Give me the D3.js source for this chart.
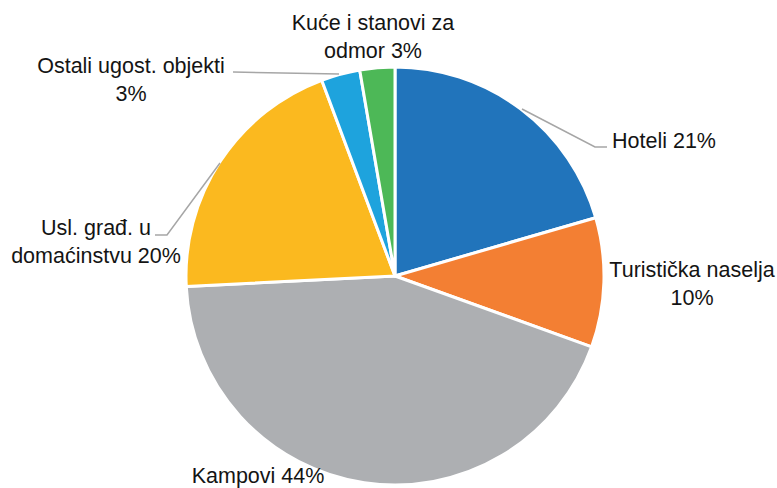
<!DOCTYPE html>
<html><head><meta charset="utf-8">
<script src="https://cdn.jsdelivr.net/npm/d3@7"></script>
<style>body{margin:0;background:#fff}text{font-family:"Liberation Sans",Arial,sans-serif;fill:#141414}</style>
</head><body><svg id="c" width="777" height="488"></svg>
<script>
const categories = ["Hoteli","Turistička naselja","Kampovi","Usl. građ. u domaćinstvu","Ostali ugost. objekti","Kuće i stanovi za odmor"];
const values = [20.5, 10.0, 43.7, 20.1, 3.0, 2.7];
const pctLabels = ["21%","10%","44%","20%","3%","3%"];
const colors = ["#2174BB","#F37F33","#ADAFB2","#FBB91F","#1EA3DD","#4DB857"];

const svg = d3.select("#c");
const cx = 395, cy = 276, r = 209;
const pie = d3.pie().sort(null).value(d => d)(values);
const arc = d3.arc().innerRadius(0).outerRadius(r);
const g = svg.append("g").attr("transform", `translate(${cx},${cy})`);
g.selectAll("path").data(pie).enter().append("path")
  .attr("d", arc).attr("fill", (d,i) => colors[i])
  .attr("stroke", "#fff").attr("stroke-width", 3).attr("stroke-linejoin","round");

const labels = [
  {lines:["Hoteli 21%"], x:664, y:148, leader:[[522,109],[595,147],[607,147]]},
  {lines:["Turistička naselja","10%"], x:692, y:277},
  {lines:["Kampovi 44%"], x:258, y:483},
  {lines:["Usl. građ. u","domaćinstvu 20%"], x:96, y:235, leader:[[220,163],[167,235],[155,235]]},
  {lines:["Ostali ugost. objekti","3%"], x:131, y:73, leader:[[233,72],[339,74]]},
  {lines:["Kuće i stanovi za","odmor 3%"], x:373, y:30}
];
const line = d3.line();
labels.forEach((L,i) => {
  if (L.leader) svg.append("path").attr("d", line(L.leader)).attr("fill","none")
    .attr("stroke","#A6A6A6").attr("stroke-width",1.5);
  const t = svg.append("text").attr("text-anchor","middle").attr("font-size",21.5);
  L.lines.forEach((s,k) => t.append("tspan").attr("x",L.x).attr("y",L.y + k*28).text(s));
});
</script></body></html>
